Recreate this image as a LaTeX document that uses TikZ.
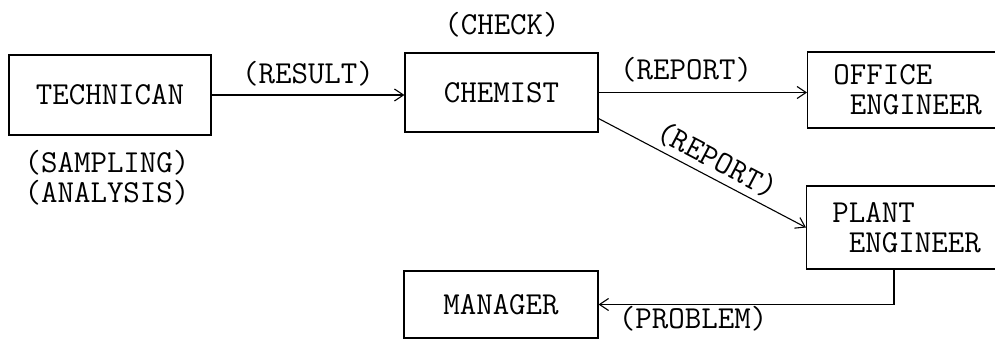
\documentclass[tikz,border=0pt]{standalone}
\usepackage{tikz}
\usetikzlibrary{arrows.meta}

\begin{document}
\begin{tikzpicture}[x=1pt, y=-1pt,
  box/.style={rectangle, draw, line width=1.2pt, font=\ttfamily\fontsize{32}{30}\selectfont},
  lbl/.style={font=\ttfamily\fontsize{32}{30}\selectfont},
  arr/.style={line width=1.1pt, -{Straight Barb[length=9pt, width=12pt, line width=1.1pt]}}]
  \path[use as bounding box, clip] (0,0) rectangle (995,340);
  \node[box, minimum width=202, minimum height=80] (tech) at (110,95) {TECHNICAN};
  \node[box, minimum width=193, minimum height=79] (chem) at (501.5,92.5) {CHEMIST};
  \node[box, align=left, minimum width=200, minimum height=76, anchor=west] (office) at (807,90) {OFFICE\\\ ENGINEER};
  \node[box, align=left, minimum width=200, minimum height=83, anchor=west] (plant) at (806,227.5) {PLANT\\\ ENGINEER};
  \node[box, minimum width=194, minimum height=67] (manager) at (501,304.5) {MANAGER};
  \node[lbl] (check) at (502,25) {(CHECK)};
  \node[lbl] (sampling) at (107,163) {(SAMPLING)};
  \node[lbl] (analysis) at (107,193) {(ANALYSIS)};
  \draw[arr] (tech.east) -- node[lbl, midway, above=5pt] (result) {(RESULT)} (tech.east -| chem.west);
  \draw[arr] (chem.east) -- node[lbl, pos=0.42, above=6pt] (reportA) {(REPORT)} (chem.east -| office.west);
  \draw[arr] (chem.-15) -- node[lbl, pos=0.53, sloped, above=2pt] (reportB) {(REPORT)} (plant.west);
  \draw[arr] (plant.south west) ++(88,0) |- node[lbl, pos=0.84, below=-2pt] (problem) {(PROBLEM)} (manager.east);
\end{tikzpicture}
\end{document}
